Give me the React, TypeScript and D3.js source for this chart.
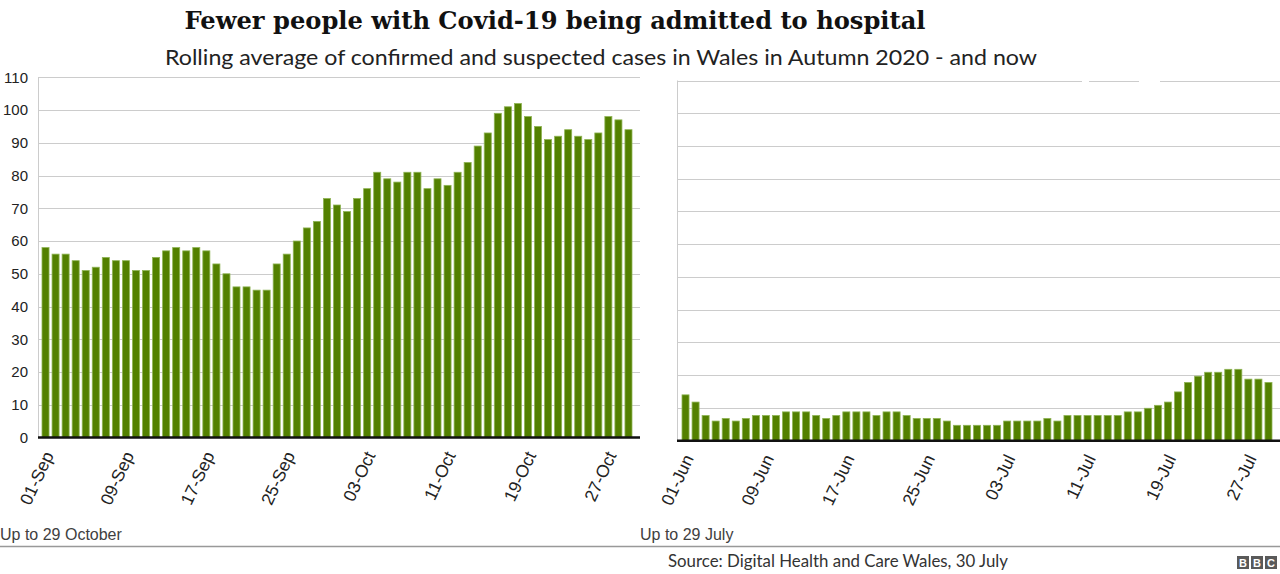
import React from 'react';
import * as d3 from 'd3';

const autumnValues = [58,56,56,54,51,52,55,54,54,51,51,55,57,58,57,58,57,53,50,46,46,45,45,53,56,60,64,66,73,71,69,73,76,81,79,78,81,81,76,79,77,81,84,89,93,99,101,102,98,95,91,92,94,92,91,93,98,97,94];
const summerValues = [14.0,11.8,7.7,6.0,6.8,6.0,6.8,7.7,7.7,7.7,8.8,8.8,8.8,7.7,6.8,7.7,8.8,8.8,8.8,7.7,8.8,8.8,7.7,6.8,6.8,6.8,6.0,4.7,4.7,4.7,4.7,4.7,6.0,6.0,6.0,6.0,6.8,6.0,7.7,7.7,7.7,7.7,7.7,7.7,8.8,8.8,9.9,10.8,11.8,14.9,17.8,19.7,20.9,20.9,21.8,21.8,18.8,18.8,17.8];
const autumnTickLabels = ['01-Sep','09-Sep','17-Sep','25-Sep','03-Oct','11-Oct','19-Oct','27-Oct'];
const summerTickLabels = ['01-Jun','09-Jun','17-Jun','25-Jun','03-Jul','11-Jul','19-Jul','27-Jul'];
const tickIndices = [0,8,16,24,32,40,48,56];
const yTicks = [0,10,20,30,40,50,60,70,80,90,100,110];

const TITLE = 'Fewer people with Covid-19 being admitted to hospital';
const SUBTITLE = 'Rolling average of confirmed and suspected cases in Wales in Autumn 2020 - and now';

const BAR_FILL = '#538000';
const BAR_STROKE = '#8fb455';
const GRID = '#cccccc';

function Panel({ values, tickLabels, x0, x1, bandStart, bandEnd, yBottom, yTop, showYLabels, footer, footerX }) {
  const x = d3.scaleBand().domain(values.map((_, i) => i)).range([bandStart, bandEnd]).paddingInner(0.3).paddingOuter(0.15);
  const y = d3.scaleLinear().domain([0, 110]).range([yBottom, yTop]);
  return (
    <g>
      {yTicks.filter(t => t > 0).map(t => (
        <line key={t} x1={x0} x2={x1} y1={Math.round(y(t)) + 0.5} y2={Math.round(y(t)) + 0.5} stroke={GRID} strokeWidth={1} />
      ))}
      <line x1={x0 + 0.5} x2={x0 + 0.5} y1={y(110)} y2={y(0)} stroke={GRID} strokeWidth={1} />
      {values.map((v, i) => (
        <rect key={i} x={x(i)} y={y(v)} width={x.bandwidth()} height={y(0) - y(v)} fill={BAR_FILL} stroke={BAR_STROKE} strokeWidth={0.8} />
      ))}
      <line x1={x0} x2={x1} y1={y(0)} y2={y(0)} stroke="#111" strokeWidth={2.5} />
      {showYLabels && yTicks.map(t => (
        <text key={t} x={28} y={y(t)} dy="0.35em" textAnchor="end" fontFamily="'Liberation Sans', Arial, sans-serif" fontSize={15} fill="#222">{t}</text>
      ))}
      {tickIndices.map((idx, k) => {
        const cx = (x(idx) as number) + x.bandwidth() / 2;
        return (
          <text key={idx} transform={`translate(${cx + 3},${y(0) + 15}) rotate(-65)`} dy="0.35em" textAnchor="end" fontFamily="'Liberation Sans', Arial, sans-serif" fontSize={17.5} fill="#222">{tickLabels[k]}</text>
        );
      })}
      <text x={footerX} y={540} fontFamily="'Liberation Sans', Arial, sans-serif" fontSize={16} fill="#404040">{footer}</text>
    </g>
  );
}

export default function App() {
  return (
    <svg width={1280} height={574} style={{ position: 'absolute', left: 0, top: 0, background: '#fff' }}>
      <rect x={0} y={0} width={1280} height={574} fill="#fff" />
      <text x={555} y={29} textAnchor="middle" fontFamily="'DejaVu Serif', serif" fontWeight="bold" fontSize={25} fill="#111" textLength={741} lengthAdjust="spacingAndGlyphs">{TITLE}</text>
      <text x={601} y={65} textAnchor="middle" fontFamily="Lato, 'Open Sans', sans-serif" fontSize={21} fill="#222" textLength={872} lengthAdjust="spacingAndGlyphs">{SUBTITLE}</text>
      <Panel values={autumnValues} tickLabels={autumnTickLabels} x0={38} x1={640} bandStart={40.5} bandEnd={633.5} yBottom={437.5} yTop={77.3} showYLabels={true} footer="Up to 29 October" footerX={0} />
      <Panel values={summerValues} tickLabels={summerTickLabels} x0={677} x1={1280} bandStart={680.5} bandEnd={1273.5} yBottom={440.7} yTop={80.5} showYLabels={false} footer="Up to 29 July" footerX={640} />
      <rect x={1082} y={78} width={7} height={5} fill="#fff" />
      <rect x={1139} y={78} width={21} height={5} fill="#fff" />
      <line x1={0} x2={1280} y1={546.5} y2={546.5} stroke="#999" strokeWidth={1.5} />
      <text x={668} y={567} fontFamily="Lato, 'Open Sans', sans-serif" fontSize={17} fill="#333" textLength={340} lengthAdjust="spacingAndGlyphs">Source: Digital Health and Care Wales, 30 July</text>
      {['B', 'B', 'C'].map((ch, i) => (
        <g key={i}>
          <rect x={1237 + i * 14} y={556} width={12} height={13} fill="#5a5a5a" />
          <text x={1237 + i * 14 + 6} y={566.5} textAnchor="middle" fontFamily="'Liberation Sans', Arial, sans-serif" fontWeight="bold" fontSize={11} fill="#fff">{ch}</text>
        </g>
      ))}
    </svg>
  );
}
